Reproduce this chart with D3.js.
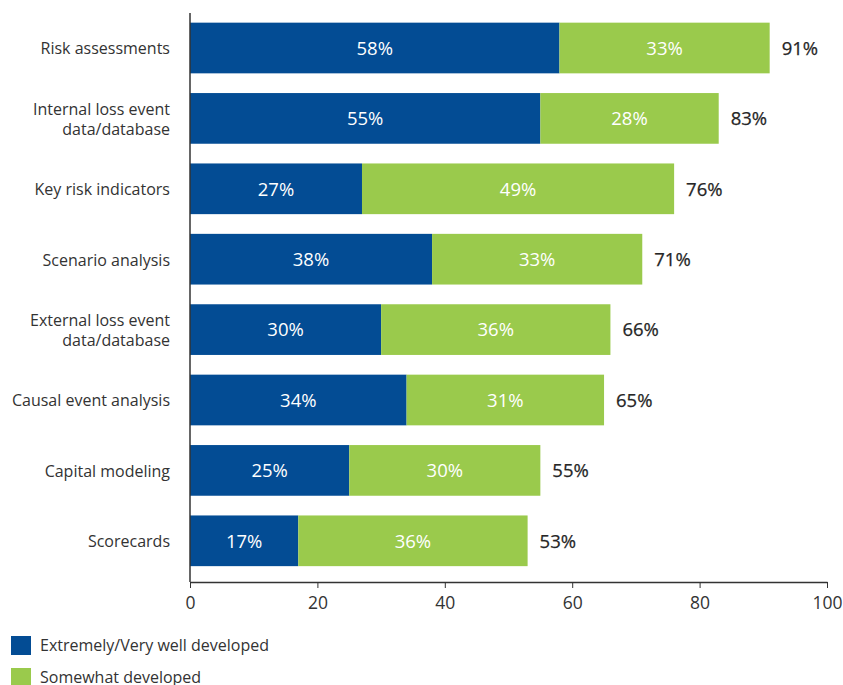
<!DOCTYPE html>
<html>
<head>
<meta charset="utf-8">
<script src="https://cdn.jsdelivr.net/npm/d3@7/dist/d3.min.js"></script>
<style>
  html, body { margin: 0; padding: 0; background: #fff; }
  svg { display: block; font-family: "Open Sans", "Noto Sans", sans-serif; }
</style>
</head>
<body>
<svg id="chart" width="843" height="685"></svg>
<script>
// Operational risk tools: share of respondents by development level
const categories = [
  ["Risk assessments"],
  ["Internal loss event", "data/database"],
  ["Key risk indicators"],
  ["Scenario analysis"],
  ["External loss event", "data/database"],
  ["Causal event analysis"],
  ["Capital modeling"],
  ["Scorecards"]
];
const wellDeveloped = [58, 55, 27, 38, 30, 34, 25, 17];
const somewhatDeveloped = [33, 28, 49, 33, 36, 31, 30, 36];
const totals = [91, 83, 76, 71, 66, 65, 55, 53];
const xTicks = [0, 20, 40, 60, 80, 100];
const seriesNames = ["Extremely/Very well developed", "Somewhat developed"];

const colors = ["#034c94", "#9aca4c"];
const textColor = "#333333";

const svg = d3.select("#chart");
const x0 = 190, x1 = 827;
const x = d3.scaleLinear().domain([0, 100]).range([x0, x1]);
const y = d3.scaleBand()
  .domain(d3.range(categories.length))
  .range([12.8, 576])
  .paddingInner(0.28)
  .paddingOuter(0.14);

const axisY = 582;

// Stacked bars
const rows = categories.map((c, i) => ({ i, a: wellDeveloped[i], b: somewhatDeveloped[i], t: totals[i] }));
const g = svg.append("g");

g.selectAll("rect.a").data(rows).join("rect")
  .attr("x", d => x(0))
  .attr("y", d => y(d.i))
  .attr("width", d => x(d.a) - x(0))
  .attr("height", y.bandwidth())
  .attr("fill", colors[0]);

g.selectAll("rect.b").data(rows).join("rect")
  .attr("x", d => x(d.a))
  .attr("y", d => y(d.i))
  .attr("width", d => x(d.a + d.b) - x(d.a))
  .attr("height", y.bandwidth())
  .attr("fill", colors[1]);

// Segment value labels
g.selectAll("text.va").data(rows).join("text")
  .attr("x", d => (x(0) + x(d.a)) / 2)
  .attr("y", d => y(d.i) + y.bandwidth() / 2)
  .attr("dy", "0.37em")
  .attr("text-anchor", "middle")
  .attr("fill", "#fff")
  .attr("font-size", 18.5)
  .text(d => d.a + "%");

g.selectAll("text.vb").data(rows).join("text")
  .attr("x", d => (x(d.a) + x(d.a + d.b)) / 2)
  .attr("y", d => y(d.i) + y.bandwidth() / 2)
  .attr("dy", "0.37em")
  .attr("text-anchor", "middle")
  .attr("fill", "#fff")
  .attr("font-size", 18.5)
  .text(d => d.b + "%");

// Totals (medium weight via a thin outline)
g.selectAll("text.tot").data(rows).join("text")
  .attr("x", d => x(d.a + d.b) + 12)
  .attr("y", d => y(d.i) + y.bandwidth() / 2)
  .attr("dy", "0.37em")
  .attr("fill", "#262626")
  .attr("stroke", "#262626")
  .attr("stroke-width", 0.25)
  .attr("font-size", 18.5)
  .text(d => d.t + "%");

// Category labels
const lab = g.selectAll("text.cat").data(rows).join("text")
  .attr("text-anchor", "end")
  .attr("fill", textColor)
  .attr("font-size", 16);
lab.each(function(d) {
  const lines = categories[d.i];
  const cy = y(d.i) + y.bandwidth() / 2;
  const lh = 20;
  const start = cy - (lines.length - 1) * lh / 2;
  d3.select(this).selectAll("tspan").data(lines).join("tspan")
    .attr("x", 170)
    .attr("y", (l, k) => start + k * lh)
    .attr("dy", "0.4em")
    .text(l => l);
});

// Vertical category axis line
svg.append("line")
  .attr("x1", x0).attr("x2", x0)
  .attr("y1", 13).attr("y2", axisY)
  .attr("stroke", "#333").attr("stroke-width", 1.5);

// Bottom value axis
const xAxis = d3.axisBottom(x).tickValues(xTicks).tickSize(6).tickPadding(9).tickSizeOuter(0);
const ax = svg.append("g").attr("transform", `translate(0,${axisY})`).call(xAxis);
ax.select(".domain").attr("stroke", "#333").attr("stroke-width", 1.5);
ax.selectAll(".tick line").attr("stroke", "#333");
ax.selectAll(".tick text")
  .attr("fill", textColor)
  .attr("font-size", 17.5)
  .attr("font-family", "\"Open Sans\", \"Noto Sans\", sans-serif");

// Legend
const leg = svg.append("g");
seriesNames.forEach((name, i) => {
  const ly = 636 + i * 32;
  leg.append("rect")
    .attr("x", 11).attr("y", ly)
    .attr("width", 20).attr("height", 19)
    .attr("fill", colors[i]);
  leg.append("text")
    .attr("x", 40).attr("y", ly + 9.5)
    .attr("dy", "0.36em")
    .attr("fill", textColor)
    .attr("font-size", 16)
    .text(name);
});
</script>
</body>
</html>
